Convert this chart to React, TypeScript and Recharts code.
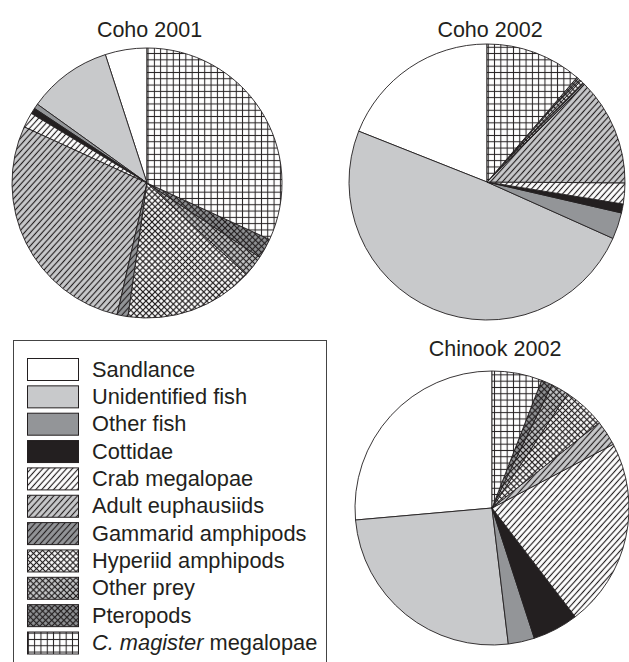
import { Cell, Pie, PieChart } from "recharts";

// Prey categories, listed counter-clockwise from 12 o'clock in every pie
const categories = [
  "Sandlance",
  "Unidentified fish",
  "Other fish",
  "Cottidae",
  "Crab megalopae",
  "Adult euphausiids",
  "Gammarid amphipods",
  "Hyperiid amphipods",
  "Other prey",
  "Pteropods",
  "C. magister megalopae",
];

// Diet composition (%) per salmon group
const coho2001 = [5.0, 10.1, 0.6, 0.7, 1.8, 28.3, 1.3, 15.4, 2.6, 2.4, 31.9];
const coho2002 = [19.0, 49.3, 3.1, 1.05, 2.45, 12.6, 0.2, 0.4, 0.4, 0.2, 11.3];
const chinook2002 = [26.4, 25.5, 3.1, 5.4, 22.3, 3.0, 0, 5.0, 2.1, 1.3, 5.9];

const panelTitles = ["Coho 2001", "Coho 2002", "Chinook 2002"];
const panelValues = [coho2001, coho2002, chinook2002];

const INK = "#231f20";
const LIGHT = "#c8c9cb";
const MID = "#939598";
const FONT = '"Liberation Sans", Arial, Helvetica, sans-serif';

type Fill = { kind: "solid" | "diag" | "cross" | "grid"; bg: string };

const fills: Fill[] = [
  { kind: "solid", bg: "#ffffff" },
  { kind: "solid", bg: LIGHT },
  { kind: "solid", bg: MID },
  { kind: "solid", bg: INK },
  { kind: "diag", bg: "#ffffff" },
  { kind: "diag", bg: LIGHT },
  { kind: "diag", bg: MID },
  { kind: "cross", bg: "#ffffff" },
  { kind: "cross", bg: LIGHT },
  { kind: "cross", bg: MID },
  { kind: "grid", bg: "#ffffff" },
];

const fillRef = (i: number) =>
  fills[i].kind === "solid" ? fills[i].bg : `url(#prey-fill-${i})`;

const layout = [
  { cx: 147, cy: 183, r: 135, tx: 149.5, ty: 37 },
  { cx: 487, cy: 182, r: 138, tx: 490, ty: 37 },
  { cx: 492, cy: 508, r: 137, tx: 495, ty: 356 },
];

function PatternDefs() {
  return (
    <defs>
      {fills.map((f, i) => {
        if (f.kind === "diag") {
          return (
            <pattern key={i} id={`prey-fill-${i}`} patternUnits="userSpaceOnUse" width={4.4} height={4.4} patternTransform="rotate(42)">
              <rect width={4.4} height={4.4} fill={f.bg} />
              <line x1={2.2} y1={0} x2={2.2} y2={4.4} stroke={INK} strokeWidth={1.15} />
            </pattern>
          );
        }
        if (f.kind === "cross") {
          return (
            <pattern key={i} id={`prey-fill-${i}`} patternUnits="userSpaceOnUse" width={4.3} height={4.3} patternTransform="rotate(45)">
              <rect width={4.3} height={4.3} fill={f.bg} />
              <line x1={2.15} y1={0} x2={2.15} y2={4.3} stroke={INK} strokeWidth={1.2} />
              <line x1={0} y1={2.15} x2={4.3} y2={2.15} stroke={INK} strokeWidth={1.2} />
            </pattern>
          );
        }
        if (f.kind === "grid") {
          return (
            <pattern key={i} id={`prey-fill-${i}`} patternUnits="userSpaceOnUse" width={6.3} height={6.3}>
              <rect width={6.3} height={6.3} fill={f.bg} />
              <line x1={3.15} y1={0} x2={3.15} y2={6.3} stroke={INK} strokeWidth={1} />
              <line x1={0} y1={3.15} x2={6.3} y2={3.15} stroke={INK} strokeWidth={1} />
            </pattern>
          );
        }
        return null;
      })}
    </defs>
  );
}

function Overlay() {
  const rowTop = 358;
  const rowStep = 27.35;
  return (
    <svg
      width={629}
      height={662}
      style={{ position: "absolute", left: 0, top: 0, pointerEvents: "none" }}
    >
      <PatternDefs />
      {panelTitles.map((t, i) => (
        <text key={t} x={layout[i].tx} y={layout[i].ty} textAnchor="middle" fontFamily={FONT} fontSize={21.5} fill={INK}>
          {t}
        </text>
      ))}
      <rect x={13.5} y={340.5} width={313} height={340} fill="none" stroke="#444" strokeWidth={1} />
      {categories.map((c, i) => {
        const y = rowTop + i * rowStep;
        const italic = c.startsWith("C. magister");
        return (
          <g key={c}>
            <rect x={27.5} y={y + 0.5} width={51} height={22} fill={fillRef(i)} stroke={INK} strokeWidth={1} />
            <text x={92} y={y + 18.5} fontFamily={FONT} fontSize={21.8} fill={INK}>
              {italic ? (
                <>
                  <tspan fontStyle="italic">C. magister</tspan> megalopae
                </>
              ) : (
                c
              )}
            </text>
          </g>
        );
      })}
    </svg>
  );
}

export default function App() {
  const pies = panelValues.map((vals) =>
    categories.map((name, i) => ({ name, value: vals[i], idx: i })).filter((d) => d.value > 0),
  );

  return (
    <div style={{ position: "absolute", left: 0, top: 0, width: 629, height: 662, background: "#fff" }}>
      <PieChart width={629} height={662} margin={{ top: 0, right: 0, bottom: 0, left: 0 }}>
        {pies.map((data, p) => (
          <Pie
            key={panelTitles[p]}
            data={data}
            dataKey="value"
            nameKey="name"
            cx={layout[p].cx}
            cy={layout[p].cy}
            innerRadius={0}
            outerRadius={layout[p].r}
            startAngle={90}
            endAngle={450}
            stroke={INK}
            strokeWidth={0.9}
            isAnimationActive={false}
          >
            {data.map((d) => (
              <Cell key={d.name} fill={fillRef(d.idx)} />
            ))}
          </Pie>
        ))}
      </PieChart>
      <Overlay />
    </div>
  );
}
